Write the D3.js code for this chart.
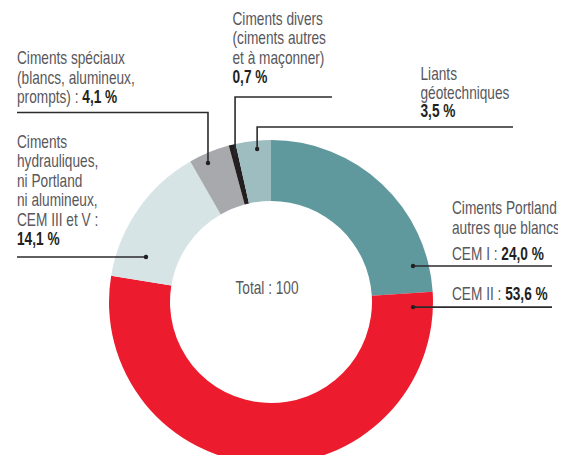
<!DOCTYPE html>
<html lang="fr">
<head>
<meta charset="utf-8">
<script src="https://d3js.org/d3.v7.min.js"></script>
<style>
  body { margin: 0; background: #fff; }
  text { font-family: "Liberation Sans", Arial, sans-serif; font-size: 18px; fill: #58575c; }
  .val { font-weight: bold; fill: #231f20; }
</style>
</head>
<body>
<div id="chart"></div>
<script>
// slices, clockwise from 12 o'clock
var keys = ["cem1", "cem2", "hydrau", "speciaux", "divers", "liants"];
var values = [24.0, 53.6, 14.1, 4.1, 0.7, 3.5];
var colours = ["#5f999e", "#ec1c2e", "#d7e4e6", "#a7a9ac", "#231f20", "#9dbdc1"];
var total = 100;

// label text (last line gets the value in bold)
var labelLines = {
  cem1: ["CEM I : "],
  cem2: ["CEM II : "],
  hydrau: ["Ciments", "hydrauliques,", "ni Portland", "ni alumineux,", "CEM III et V :", ""],
  speciaux: ["Ciments spéciaux", "(blancs, alumineux,", "prompts) : "],
  divers: ["Ciments divers", "(ciments autres", "et à maçonner)", ""],
  liants: ["Liants", "géotechniques", ""]
};
var portlandHead = ["Ciments Portland", "autres que blancs"];

var width = 569, height = 455;
var cx = 271, cy = 302, rOut = 162, rIn = 101;
var squeeze = 0.76; // condensed look

var fr = d3.formatLocale({decimal: ",", thousands: " ", grouping: [3], currency: ["", " €"]});
var fmt = fr.format(".1f");

function place(x, y) {
  return "translate(" + x + "," + y + ") scale(" + squeeze + ",1)";
}

var svg = d3.select("#chart").append("svg")
  .attr("width", width).attr("height", height);

svg.append("clipPath").attr("id", "clip")
  .append("rect").attr("x", 0).attr("y", 0).attr("width", 558).attr("height", height);

var root = svg.append("g").attr("clip-path", "url(#clip)");

var pie = d3.pie().sort(null).value(function(d) { return d; });
var arcs = pie(values);
var arc = d3.arc().innerRadius(rIn).outerRadius(rOut);

var ring = root.append("g").attr("transform", "translate(" + cx + "," + cy + ")");
ring.selectAll("path")
  .data(arcs)
  .enter().append("path")
  .attr("d", arc)
  .attr("fill", function(d, i) { return colours[i]; });

ring.append("text")
  .attr("transform", place(-4, -8))
  .attr("text-anchor", "middle")
  .text("Total : " + total);

// annotation layout: where the dot sits in its slice (fraction of the slice, radius),
// where the leader runs and where the text block sits
var layout = {
  cem1:     {f: 0.877, r: 146.5, kind: "h", endX: 552, tx: 452, ty: [260], dot: true},
  cem2:     {f: 0.0293, r: 142.1, kind: "h", endX: 552, tx: 452, ty: [300], dot: true},
  hydrau:   {f: 0.206, r: 132.9, kind: "h", endX: 17, tx: 17, ty: [147.5, 167, 186.5, 206, 225.5, 245], dot: true},
  speciaux: {f: 0.372, r: 152.6, kind: "v", lineY: 112.5, endX: 17, tx: 17, ty: [64, 83.7, 103.3], dot: true},
  divers:   {f: 0.5, r: 150, kind: "v", lineY: 97, endX: 332, tx: 232.5, ty: [25, 44.3, 63.7, 83], dot: false},
  liants:   {f: 0.589, r: 153.6, kind: "v", lineY: 127, endX: 513, tx: 420.5, ty: [80, 98.5, 117], dot: true}
};

var line = d3.line();
var ann = root.append("g");

arcs.forEach(function(a, i) {
  var k = keys[i], L = layout[k];
  var ang = a.startAngle + L.f * (a.endAngle - a.startAngle);
  var p = d3.pointRadial(ang, L.r);
  var px = cx + p[0], py = cy + p[1];
  var pts = L.kind === "h"
    ? [[px, py], [L.endX, py]]
    : [[px, py], [px, L.lineY], [L.endX, L.lineY]];
  ann.append("path")
    .attr("d", line(pts))
    .attr("fill", "none")
    .attr("stroke", "#2b2a2c")
    .attr("stroke-width", 1.6);
  if (L.dot) {
    ann.append("circle").attr("cx", px).attr("cy", py).attr("r", 2.2).attr("fill", "#231f20");
  }
  var lines = labelLines[k];
  lines.forEach(function(s, j) {
    var t = ann.append("text").attr("transform", place(L.tx, L.ty[j]));
    t.append("tspan").text(s);
    if (j === lines.length - 1) {
      t.append("tspan").attr("class", "val").text(fmt(values[i]) + " %");
    }
  });
});

// shared heading for the two Portland slices
ann.selectAll("text.head")
  .data(portlandHead)
  .enter().append("text")
  .attr("class", "head")
  .attr("transform", function(d, j) { return place(452, 214 + j * 20); })
  .text(function(d) { return d; });
</script>
</body>
</html>
